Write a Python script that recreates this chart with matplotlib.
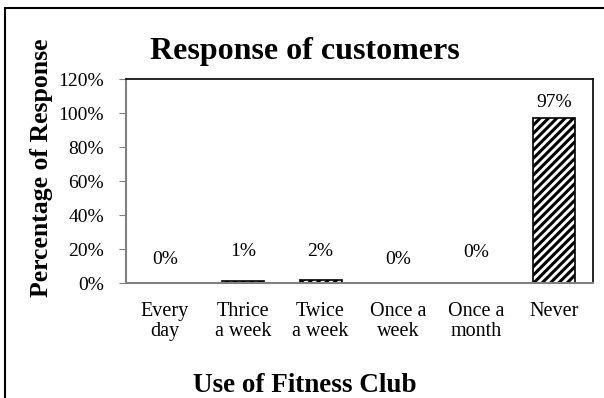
import matplotlib.pyplot as plt
from matplotlib.patches import Rectangle

categorias = ["Every\nday", "Thrice\na week", "Twice\na week", "Once a\nweek", "Once a\nmonth", "Never"]
valores = [0, 1, 2, 0, 0, 97]
rotulos = ["0%", "1%", "2%", "0%", "0%", "97%"]
# altura (em %) do centro de cada rotulo, como aparece no grafico
altura_rotulo = [14, 18.5, 18.5, 14, 18, 106]

plt.rcParams['font.family'] = ['Liberation Serif', 'DejaVu Serif']
plt.rcParams['hatch.linewidth'] = 2.2

fig = plt.figure(figsize=(6.04, 3.98), dpi=100)
ax = fig.add_axes([126/604, 1-283/398, (593-126)/604, (283-79)/398])

x = range(len(categorias))
ax.bar(x, valores, width=0.54, color='white', edgecolor='black', hatch='////', linewidth=1.2)

for i in x:
    ax.text(i, altura_rotulo[i], rotulos[i], ha='center', va='center', fontsize=14)

ax.set_xlim(-0.5, 5.5)
ax.set_ylim(0, 120)
ax.set_yticks([0, 20, 40, 60, 80, 100, 120])
ax.set_yticklabels(["0%", "20%", "40%", "60%", "80%", "100%", "120%"], fontsize=14)
ax.set_xticks(list(x))
ax.set_xticklabels(categorias, fontsize=14.5, linespacing=1.05)
ax.tick_params(axis='x', length=0, pad=14)
ax.tick_params(axis='y', length=5, color='#808080', direction='out', pad=11)

for lado in ['top', 'right']:
    ax.spines[lado].set_color('black')
    ax.spines[lado].set_linewidth(1.2)
for lado in ['left', 'bottom']:
    ax.spines[lado].set_color('#808080')
    ax.spines[lado].set_linewidth(1.5)

fig.text(305/604, 1-59/398, "Response of customers", ha='center', va='baseline', fontsize=23, fontweight='bold')
fig.text(305/604, 1-392/398, "Use of Fitness Club", ha='center', va='baseline', fontsize=19.5, fontweight='bold')
fig.text(42/604, 1-168/398, "Percentage of Response", ha='center', va='center', rotation=90, fontsize=18.5, fontweight='bold')

# borda externa
fig.patches.append(Rectangle((5/604, -0.1), 1.2, 1-8/398+0.1, transform=fig.transFigure,
                             fill=False, edgecolor='black', linewidth=1.5))

fig.savefig('out.png', dpi=100)
